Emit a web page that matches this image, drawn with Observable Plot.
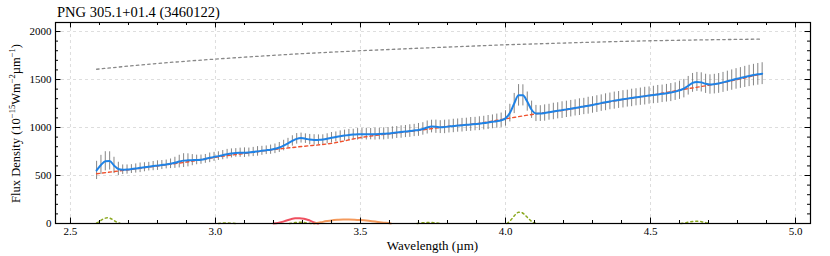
<!DOCTYPE html>
<html><head><meta charset="utf-8">
<script src="https://cdn.jsdelivr.net/npm/d3@7"></script>
<script src="https://cdn.jsdelivr.net/npm/@observablehq/plot@0.6"></script>
<style>body{margin:0;background:#fff} svg text{font-family:"Liberation Serif",serif !important;}</style>
</head><body><div id="chart"></div>
<script>
const title = "PNG 305.1+01.4 (3460122)";
const xLabel = "Wavelength (µm)";
const xTicks = [2.5, 3.0, 3.5, 4.0, 4.5, 5.0];
const xMinor = [2.5,2.6,2.7,2.8,2.9,3.0,3.1,3.2,3.3,3.4,3.5,3.6,3.7,3.8,3.9,4.0,4.1,4.2,4.3,4.4,4.5,4.6,4.7,4.8,4.9,5.0];
const yTicks = [0, 500, 1000, 1500, 2000];
const yMinor = [0,100,200,300,400,500,600,700,800,900,1000,1100,1200,1300,1400,1500,1600,1700,1800,1900,2000];

// observed spectrum (wavelength, flux, 1-sigma error) — model line follows flux
const wavelength = [2.590,2.605,2.620,2.635,2.650,2.665,2.680,2.695,2.710,2.725,2.740,2.755,2.770,2.785,2.800,2.815,2.830,2.845,2.860,2.875,2.890,2.905,2.920,2.935,2.950,2.965,2.980,2.995,3.010,3.025,3.040,3.055,3.070,3.085,3.100,3.115,3.130,3.145,3.160,3.175,3.190,3.205,3.220,3.235,3.250,3.265,3.280,3.295,3.310,3.325,3.340,3.355,3.370,3.385,3.400,3.415,3.430,3.445,3.460,3.475,3.490,3.505,3.520,3.535,3.550,3.565,3.580,3.595,3.610,3.625,3.640,3.655,3.670,3.685,3.700,3.715,3.730,3.745,3.760,3.775,3.790,3.805,3.820,3.835,3.850,3.865,3.880,3.895,3.910,3.925,3.940,3.955,3.970,3.985,4.000,4.015,4.030,4.045,4.060,4.075,4.090,4.105,4.120,4.135,4.150,4.165,4.180,4.195,4.210,4.225,4.240,4.255,4.270,4.285,4.300,4.315,4.330,4.345,4.360,4.375,4.390,4.405,4.420,4.435,4.450,4.465,4.480,4.495,4.510,4.525,4.540,4.555,4.570,4.585,4.600,4.615,4.630,4.645,4.660,4.675,4.690,4.705,4.720,4.735,4.750,4.765,4.780,4.795,4.810,4.825,4.840,4.855,4.870,4.885];
const flux = [553,610,648,652,605,568,560,562,567,573,580,586,592,598,603,609,615,622,632,645,655,658,660,662,665,673,684,694,702,712,722,730,735,737,738,740,745,751,757,763,769,778,792,812,835,860,882,890,884,874,870,871,874,882,893,902,910,916,922,926,929,931,931,931,931,932,934,938,943,948,953,958,963,969,975,985,1000,1010,1008,1004,1006,1011,1016,1020,1024,1028,1032,1036,1040,1046,1052,1059,1066,1076,1095,1150,1250,1335,1335,1270,1185,1146,1145,1151,1159,1167,1174,1181,1189,1196,1204,1212,1219,1227,1235,1244,1254,1263,1272,1280,1287,1294,1301,1308,1315,1321,1327,1333,1339,1345,1351,1357,1364,1374,1388,1405,1435,1465,1475,1470,1455,1448,1452,1459,1470,1482,1494,1506,1516,1527,1537,1546,1554,1561];
const fluxErr = [95,100,100,95,85,70,50,48,46,48,50,47,45,48,50,47,46,50,58,66,72,68,58,50,48,46,50,47,45,48,50,47,45,48,50,46,48,50,47,45,48,50,52,55,52,54,55,52,50,54,55,52,50,53,55,52,55,57,58,56,60,58,61,59,62,60,63,61,64,62,65,63,66,64,67,65,68,66,69,67,70,68,70,69,71,69,72,70,72,71,73,72,74,75,80,92,105,112,110,100,90,84,82,85,83,86,84,87,85,86,84,87,85,88,86,87,86,88,87,89,88,90,88,91,89,90,92,90,91,93,91,92,94,92,95,96,97,98,99,100,100,101,102,103,104,105,106,107,108,110,111,112,113,114];

// continuum (red dashed)
const contWl = [2.59,2.7,2.8,2.9,3.0,3.1,3.2,3.3,3.4,3.5,3.6,3.7,3.8,3.9,4.0,4.1,4.2,4.3,4.4,4.5,4.6,4.7,4.8,4.885];
const contFlux = [518,560,600,640,690,730,770,803,835,895,935,970,1010,1040,1090,1140,1180,1235,1290,1335,1390,1440,1500,1561];

// blackbody (grey dotted)
const bbWl = [2.59,2.7,2.8,2.9,3.0,3.1,3.2,3.3,3.4,3.5,3.6,3.7,3.8,3.9,4.0,4.1,4.2,4.3,4.4,4.5,4.6,4.7,4.8,4.885];
const bbFlux = [1607,1640,1668,1691,1713,1733,1752,1770,1785,1800,1813,1826,1838,1850,1862,1871,1880,1889,1897,1904,1909,1914,1918,1921];

// line components (green dotted)
const g1Wl = [2.590,2.600,2.610,2.620,2.630,2.640,2.650,2.660,2.670];
const g1Val = [5,22,42,56,59,50,32,14,3];
const g2Wl = [3.010,3.025,3.040,3.055,3.070];
const g2Val = [0,4,5,3,0];
const g3Wl = [3.255,3.270,3.285,3.300,3.315,3.330];
const g3Val = [0,7,13,12,5,0];
const g4Wl = [3.695,3.710,3.725,3.740,3.755,3.770,3.780];
const g4Val = [0,6,10,11,8,3,0];
const g5Wl = [4.005,4.015,4.025,4.035,4.045,4.055,4.065,4.075,4.085,4.095,4.105];
const g5Val = [0,25,60,95,117,115,95,65,35,12,0];
const g6Wl = [4.605,4.620,4.635,4.650,4.665,4.680,4.695,4.705];
const g6Val = [0,8,17,23,24,16,6,0];
// 3.3 µm feature (red) and 3.4-3.5 plateau (orange)
const pahWl = [3.200,3.215,3.230,3.245,3.260,3.275,3.290,3.305,3.320,3.335,3.350,3.355];
const pahVal = [0,6,17,32,45,54,56,50,36,17,3,0];
const platWl = [3.340,3.355,3.370,3.385,3.400,3.420,3.440,3.460,3.480,3.500,3.520,3.540,3.560,3.580,3.600,3.605];
const platVal = [0,8,17,25,32,38,42,42,40,36,31,24,16,9,3,0];

const W = 830, H = 256, mL = 55, mR = 20, mT = 22, mB = 33;
const iW = W - mL - mR, iH = H - mT - mB;

const spec = wavelength.map((w, i) => ({w, f: flux[i], lo: flux[i] - fluxErr[i], hi: flux[i] + fluxErr[i]}));
const cont = contWl.map((w, i) => ({w, f: contFlux[i]}));
const bb = bbWl.map((w, i) => ({w, f: bbFlux[i]}));
const greens = [[g1Wl,g1Val],[g2Wl,g2Val],[g3Wl,g3Val],[g4Wl,g4Val],[g5Wl,g5Val],[g6Wl,g6Val]]
  .flatMap(([ws, vs], k) => ws.map((w, i) => ({w, f: vs[i], k})));
const pah = pahWl.map((w, i) => ({w, f: pahVal[i]}));
const plat = platWl.map((w, i) => ({w, f: platVal[i]}));

const font = "Liberation Serif";
const grid = {stroke: "#d4d4d4", strokeOpacity: 1, strokeDasharray: "3,3", strokeWidth: 0.8};

const plot = Plot.plot({
  width: W, height: H,
  marginLeft: mL, marginRight: mR, marginTop: mT, marginBottom: mB,
  style: {fontFamily: font, fontSize: "11px", background: "#fff", color: "#000"},
  x: {domain: [2.4483, 5.0517]},
  y: {domain: [0, 2094]},
  marks: [
    Plot.gridX(xTicks, grid),
    Plot.gridY(yTicks.filter(d => d > 0), grid),
    Plot.line(bb, {x: "w", y: "f", stroke: "#888", strokeWidth: 1.3, strokeDasharray: "2.5,3.2"}),
    Plot.ruleX(spec, {x: "w", y1: "lo", y2: "hi", stroke: "#666", strokeOpacity: 0.8, strokeWidth: 1}),
    Plot.line(cont, {x: "w", y: "f", stroke: "#f0502c", strokeWidth: 1.4, strokeDasharray: "3,3", curve: "monotone-x"}),
    Plot.line(spec, {x: "w", y: "f", stroke: "#1e82e6", strokeWidth: 2, curve: "monotone-x"}),
    Plot.line(greens, {x: "w", y: "f", z: "k", stroke: "#8aa81e", strokeWidth: 1.5, strokeDasharray: "2,3", curve: "monotone-x"}),
    Plot.line(pah, {x: "w", y: "f", stroke: "#ef5060", strokeWidth: 2, curve: "monotone-x"}),
    Plot.line(plat, {x: "w", y: "f", stroke: "#f49a5c", strokeWidth: 2, curve: "monotone-x"}),
    // inward ticks on all four sides
    Plot.tickX(xMinor, {x: d => d, insetTop: iH - 3, stroke: "#000"}),
    Plot.tickX(xTicks, {x: d => d, insetTop: iH - 5.5, stroke: "#000"}),
    Plot.tickX(xMinor, {x: d => d, insetBottom: iH - 3, stroke: "#000"}),
    Plot.tickX(xTicks, {x: d => d, insetBottom: iH - 5.5, stroke: "#000"}),
    Plot.tickY(yMinor, {y: d => d, insetRight: iW - 3, stroke: "#000"}),
    Plot.tickY(yTicks, {y: d => d, insetRight: iW - 5.5, stroke: "#000"}),
    Plot.tickY(yMinor, {y: d => d, insetLeft: iW - 3, stroke: "#000"}),
    Plot.tickY(yTicks, {y: d => d, insetLeft: iW - 5.5, stroke: "#000"}),
    Plot.axisX(xTicks, {tickSize: 0, tickPadding: 4, tickFormat: d => d.toFixed(1), label: null, fontSize: 11}),
    Plot.axisY(yTicks, {tickSize: 0, tickPadding: 4, tickFormat: d => String(d), label: null, fontSize: 11}),
    Plot.frame({stroke: "#000", strokeWidth: 1.2})
  ]
});

document.getElementById("chart").appendChild(plot);
const svg = d3.select(plot);
svg.append("text").attr("x", 57).attr("y", 17).attr("text-anchor", "start")
  .style("font-size", "14.5px").attr("fill", "#000").text(title);
svg.append("text").attr("x", mL + iW / 2).attr("y", 249.5).attr("text-anchor", "middle")
  .style("font-size", "13px").attr("fill", "#000").text(xLabel);
const yl = svg.append("text").attr("transform", "translate(19.5,123.5) rotate(-90)")
  .attr("text-anchor", "middle").style("font-size", "12.5px").attr("fill", "#000");
yl.append("tspan").text("Flux Density (10");
yl.append("tspan").attr("dy", -5).style("font-size", "8.5px").text("−15");
yl.append("tspan").attr("dy", 5).text("Wm");
yl.append("tspan").attr("dy", -5).style("font-size", "8.5px").text("−2");
yl.append("tspan").attr("dy", 5).text("µm");
yl.append("tspan").attr("dy", -5).style("font-size", "8.5px").text("−1");
yl.append("tspan").attr("dy", 5).text(")");
</script>
</body></html>
